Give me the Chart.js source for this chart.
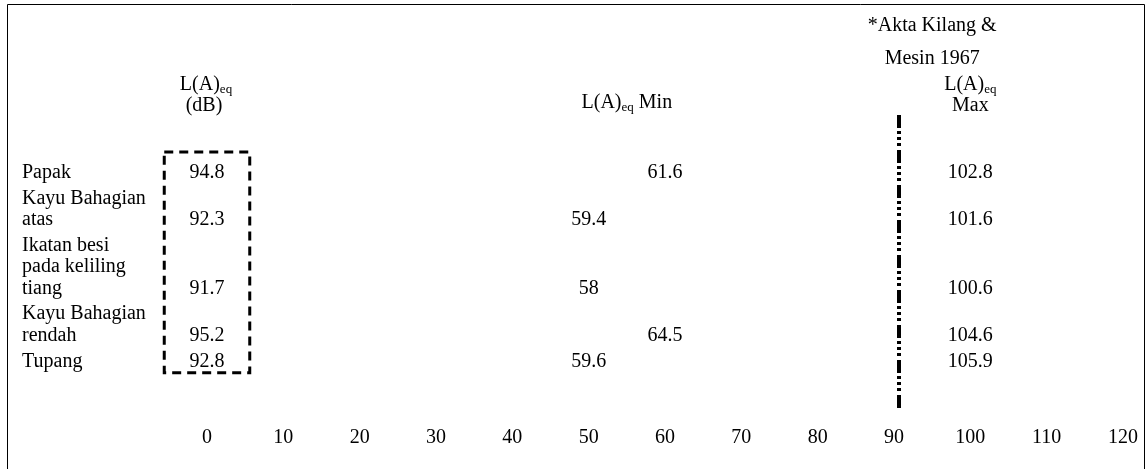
<!DOCTYPE html>
<html>
<head>
<meta charset="utf-8">
<script src="https://cdn.jsdelivr.net/npm/chart.js@4"></script>
<style>
  body { margin: 0; background: #fff; }
  #wrap { width: 1146px; height: 469px; position: relative; }
</style>
</head>
<body>
<div id="wrap"><canvas id="laeqChart"></canvas></div>
<script>
// Data
const categories = [
  ["Papak"],
  ["Kayu Bahagian", "atas"],
  ["Ikatan besi", "pada keliling", "tiang"],
  ["Kayu Bahagian", "rendah"],
  ["Tupang"],
];
const laeq = [94.8, 92.3, 91.7, 95.2, 92.8];
const laeqMin = [61.6, 59.4, 58, 64.5, 59.6];
const laeqMax = [102.8, 101.6, 100.6, 104.6, 105.9];
const xTickValues = [0, 10, 20, 30, 40, 50, 60, 70, 80, 90, 100, 110, 120];
const aktaLimit = 90; // Akta Kilang & Mesin 1967

const FONT = "'Liberation Serif', 'Times New Roman', serif";
const ROW_GAP = 0.19; // extra space between table rows, in text lines

// each row sits on the last line of its wrapped label
let lineNo = -1;
const rowLine = categories.map((c, i) => (lineNo += c.length) + i * ROW_GAP);

function points(values) {
  return values.map((v, i) => ({ x: v, y: rowLine[i] }));
}

// L(A)eq text with the small "eq" subscript
function drawLAeq(ctx, cx, cy, suffix) {
  ctx.font = "20px " + FONT;
  const w1 = ctx.measureText("L(A)").width;
  const w3 = suffix ? ctx.measureText(suffix).width : 0;
  ctx.font = "13px " + FONT;
  const w2 = ctx.measureText("eq").width;
  let x = cx - (w1 + w2 + w3) / 2;
  ctx.textAlign = "left";
  ctx.textBaseline = "middle";
  ctx.font = "20px " + FONT;
  ctx.fillText("L(A)", x, cy);
  x += w1;
  ctx.font = "13px " + FONT;
  ctx.fillText("eq", x, cy + 5);
  x += w2;
  if (suffix) {
    ctx.font = "20px " + FONT;
    ctx.fillText(suffix, x, cy);
  }
}

const tablePlugin = {
  id: "tablePlugin",
  afterDraw(chart) {
    const ctx = chart.ctx;
    const xs = chart.scales.x;
    const ys = chart.scales.y;
    const top = chart.chartArea.top;
    ctx.save();
    ctx.fillStyle = "#000";
    ctx.strokeStyle = "#000";

    // outer frame
    ctx.lineWidth = 1;
    ctx.beginPath();
    ctx.moveTo(7.5, 469);
    ctx.lineTo(7.5, 4.5);
    ctx.lineTo(1144.5, 4.5);
    ctx.lineTo(1144.5, 469);
    ctx.stroke();

    // row labels, left aligned, last line on the row
    ctx.font = "20px " + FONT;
    ctx.textAlign = "left";
    ctx.textBaseline = "middle";
    const step = ys.getPixelForValue(1) - ys.getPixelForValue(0);
    categories.forEach((lines, i) => {
      const yRow = ys.getPixelForValue(rowLine[i]);
      lines.forEach((t, k) => {
        ctx.fillText(t, 22, yRow - (lines.length - 1 - k) * step);
      });
    });

    // value labels
    chart.data.datasets.forEach((ds, di) => {
      const meta = chart.getDatasetMeta(di);
      meta.data.forEach((el, i) => {
        const v = ds.data[i].x;
        const anchor = di === 0 ? 0 : Math.floor(v / 10) * 10;
        ctx.font = "20px " + FONT;
        ctx.textAlign = "center";
        ctx.textBaseline = "middle";
        ctx.fillText(String(v), xs.getPixelForValue(anchor), el.y);
      });
    });

    // headers
    drawLAeq(ctx, xs.getPixelForValue(0) - 1, top - 65, "");
    ctx.font = "20px " + FONT;
    ctx.textAlign = "center";
    ctx.fillText("(dB)", xs.getPixelForValue(0) - 3, top - 44);
    drawLAeq(ctx, xs.getPixelForValue(55), top - 47, " Min");
    drawLAeq(ctx, xs.getPixelForValue(100), top - 65, "");
    ctx.font = "20px " + FONT;
    ctx.textAlign = "center";
    ctx.fillText("Max", xs.getPixelForValue(100), top - 44);
    ctx.fillText("*Akta Kilang &", xs.getPixelForValue(95), top - 124);
    ctx.fillText("Mesin 1967", xs.getPixelForValue(95), top - 91);

    // dashed box round the L(A)eq column
    ctx.lineWidth = 3;
    ctx.setLineDash([9, 6]);
    const bx0 = xs.getPixelForValue(-5.6);
    const bx1 = xs.getPixelForValue(5.6);
    const by0 = ys.getPixelForValue(-0.98);
    const by1 = ys.getPixelForValue(9.3);
    ctx.strokeRect(bx0, by0, bx1 - bx0, by1 - by0);

    // dash-dot limit line
    ctx.lineWidth = 4;
    ctx.setLineDash([13, 3, 3, 3, 3, 3, 3, 4]);
    const lx = xs.getPixelForValue(aktaLimit) + 5;
    ctx.beginPath();
    ctx.moveTo(lx, ys.getPixelForValue(-2.7));
    ctx.lineTo(lx, ys.getPixelForValue(10.93));
    ctx.stroke();
    ctx.restore();
  },
};

new Chart(document.getElementById("laeqChart").getContext("2d"), {
  type: "scatter",
  data: {
    datasets: [
      { label: "L(A)eq", data: points(laeq), pointRadius: 0 },
      { label: "L(A)eq Min", data: points(laeqMin), pointRadius: 0 },
      { label: "L(A)eq Max", data: points(laeqMax), pointRadius: 0 },
    ],
  },
  options: {
    responsive: true,
    maintainAspectRatio: false,
    animation: false,
    layout: {
      padding: { left: 207, right: 23, top: 150, bottom: 19 },
    },
    plugins: {
      legend: { display: false },
      tooltip: { enabled: false },
    },
    scales: {
      x: {
        type: "linear",
        min: 0,
        max: 120,
        afterBuildTicks(axis) {
          axis.ticks = xTickValues.map((v) => ({ value: v }));
        },
        afterFit(axis) {
          axis.height = 58;
          axis.paddingLeft = 0;
          axis.paddingRight = 0;
        },
        grid: { display: false, drawTicks: false },
        border: { display: false },
        ticks: {
          color: "#000",
          padding: 34,
          maxRotation: 0,
          autoSkip: false,
          font: { family: FONT, size: 20 },
        },
      },
      y: {
        type: "linear",
        display: false,
        reverse: true,
        min: -1.07,
        max: 10.19,
      },
    },
  },
  plugins: [tablePlugin],
});
</script>
</body>
</html>
